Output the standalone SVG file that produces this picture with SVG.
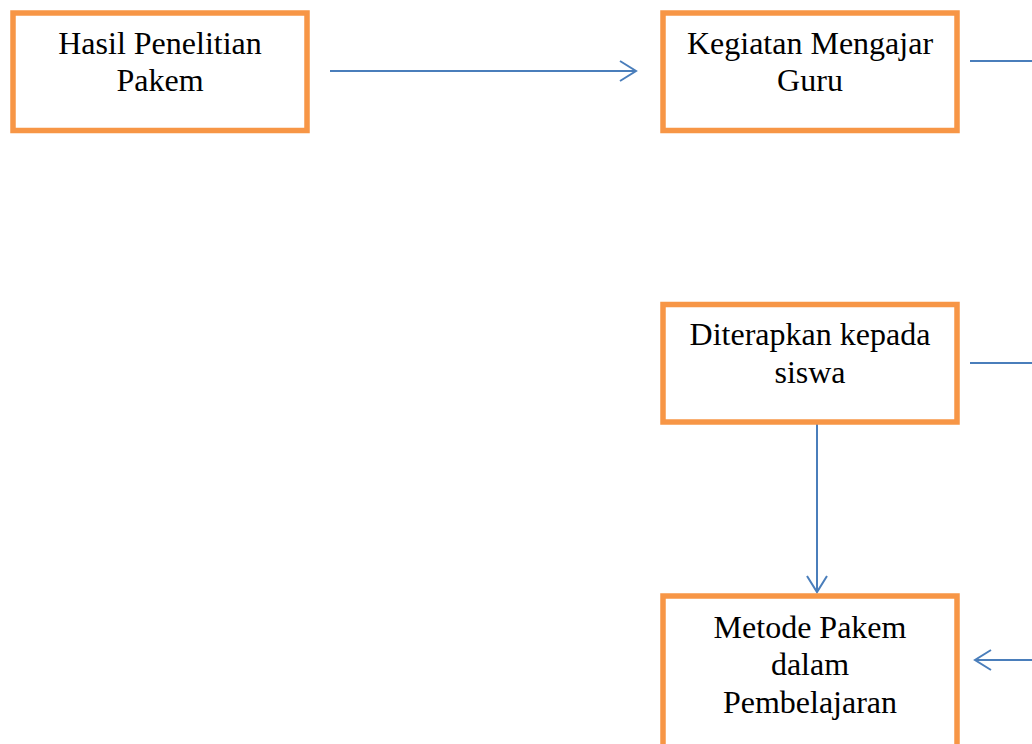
<svg xmlns="http://www.w3.org/2000/svg" width="1032" height="744" viewBox="0 0 1032 744">
<defs>
<style>
.box{fill:#fff;stroke:#F79646;stroke-width:5.5}
.lbl{font-family:"Liberation Serif","Times New Roman",serif;font-size:32px;fill:#000;text-anchor:middle}
.con{fill:none;stroke:#4A7EBB;stroke-width:2}
</style>
<marker id="ah" markerUnits="userSpaceOnUse" markerWidth="24" markerHeight="24" viewBox="-20 -12 24 24" refX="0" refY="0" orient="auto">
<path d="M-16,-10 L0,0 L-16,10" fill="none" stroke="#4A7EBB" stroke-width="2"/>
</marker>
</defs>
<rect width="1032" height="744" fill="#fff"/>
<g id="connectors">
<line class="con" x1="330" y1="71" x2="636" y2="71" marker-end="url(#ah)"/>
<line class="con" x1="970" y1="61" x2="1032" y2="61"/>
<line class="con" x1="970" y1="363" x2="1032" y2="363"/>
<line class="con" x1="817" y1="422" x2="817" y2="592" marker-end="url(#ah)"/>
<line class="con" x1="1032" y1="660" x2="975" y2="660" marker-end="url(#ah)"/>
</g>
<g id="hasil">
<rect class="box" x="13" y="13" width="294" height="117.5"/>
<text class="lbl" x="160" y="54">Hasil Penelitian</text>
<text class="lbl" x="160" y="91">Pakem</text>
</g>
<g id="kegiatan">
<rect class="box" x="663" y="13" width="294" height="117.5"/>
<text class="lbl" x="810" y="54">Kegiatan Mengajar</text>
<text class="lbl" x="810" y="91">Guru</text>
</g>
<g id="diterapkan">
<rect class="box" x="663" y="304.5" width="294" height="117.5"/>
<text class="lbl" x="810" y="345">Diterapkan kepada</text>
<text class="lbl" x="810" y="383">siswa</text>
</g>
<g id="metode">
<rect class="box" x="663" y="596" width="294" height="160"/>
<text class="lbl" x="810" y="638">Metode Pakem</text>
<text class="lbl" x="810" y="675">dalam</text>
<text class="lbl" x="810" y="713">Pembelajaran</text>
</g>
</svg>
